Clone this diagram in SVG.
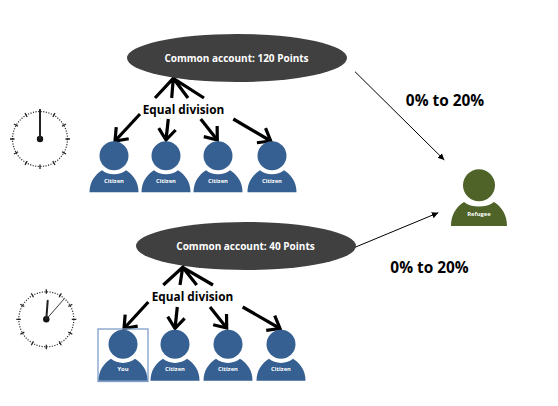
<svg xmlns="http://www.w3.org/2000/svg" width="558" height="406" viewBox="0 0 558 406">
<style>
text{font-family:"Open Sans","Liberation Sans",sans-serif;font-weight:700;text-anchor:middle}
.acc{fill:#404040}
.acct{fill:#fff;font-size:10px}
.div{fill:#000;font-size:11.800px}
.pct{fill:#000;font-size:15.400px}
.p{fill:#376092}
.r{fill:#4f6228}
.lab{fill:#fff;font-size:5.800px}
.fan{stroke:#000;stroke-width:3.200;fill:none}
.arr{stroke:#000;stroke-width:3.200;fill:none;marker-end:url(#open)}
.thin{stroke:#000;stroke-width:1;fill:none;marker-end:url(#tri)}
.face{fill:none;stroke:#333;stroke-width:1.200;stroke-dasharray:1.200 1.400}
.tick{stroke:#222;stroke-width:1.300}
.hand{stroke:#222;stroke-width:2;stroke-linecap:round}
.hand2{stroke:#222;stroke-width:.9}
</style>
<defs>
<marker id="open" markerUnits="userSpaceOnUse" markerWidth="20" markerHeight="22" refX="14" refY="11" orient="auto"><path d="M3 2.500L14 11L3 19.500" fill="none" stroke="#000" stroke-width="3.200"/></marker>
<marker id="tri" markerUnits="userSpaceOnUse" markerWidth="8" markerHeight="8" refX="6.500" refY="4" orient="auto"><path d="M0 .8L6.500 4L0 7.200Z" fill="#000"/></marker>
<g id="person"><circle cx="0" cy="0" r="14.500"/><path d="M-24.500 36.500C-24.500 26-19 19-12 14.500C-6 20 6 20 12 14.500C19 19 24.500 26 24.500 36.500Z"/></g>
<g id="clockface"><circle r="27.500" class="face"/>
<g class="tick"><path d="M0-30V-25.500M0 30V25.500M-30 0H-25.500M30 0H25.500M15-26L12.800-22M-15-26L-12.800-22M15 26L12.800 22M-15 26L-12.800 22M26-15L22-12.800M-26-15L-22-12.800M26 15L22 12.800M-26 15L-22 12.800"/></g>
<circle r="3.200" fill="#111"/></g>
</defs>
<rect width="558" height="406" fill="#fff"/>
<g id="connectors">
<path class="fan" d="M155 98L173.300 78.300L171.700 98M173.300 78.300L188 98M173.300 78.300L204 98"/>
<path class="arr" d="M140 114L115 141"/>
<path class="arr" d="M168.300 119L166 140"/>
<path class="arr" d="M200.700 119L217.300 140"/>
<path class="arr" d="M233.300 119L270.700 141"/>
<path class="fan" d="M163.300 285L182.700 267.300L180 285M182.700 267.300L196.700 285M182.700 267.300L213 285"/>
<path class="arr" d="M148.300 302L124 328.500"/>
<path class="arr" d="M177.300 307L175 328.500"/>
<path class="arr" d="M210 307L226.700 328"/>
<path class="arr" d="M242.700 307L280 328.500"/>
<path class="thin" d="M355 71.700L444.300 160"/>
<path class="thin" d="M355 247.300L438.300 212.700"/>
</g>
<g id="account-top"><ellipse class="acc" cx="237" cy="58" rx="110" ry="24"/><text class="acct" x="236.500" y="62">Common account: 120 Points</text></g>
<g id="account-bottom"><ellipse class="acc" cx="246" cy="246" rx="110" ry="24"/><text class="acct" x="245.500" y="250">Common account: 40 Points</text></g>
<text class="div" x="183.500" y="114">Equal division</text>
<text class="div" x="192.500" y="301">Equal division</text>
<text class="pct" x="445" y="106">0% to 20%</text>
<text class="pct" x="429.500" y="273">0% to 20%</text>
<g id="clock-top" transform="translate(40 139)"><use href="#clockface"/><path class="hand" d="M0 0V-29"/></g>
<g id="clock-bottom" transform="translate(46.300 319.300)"><use href="#clockface"/><path class="hand" d="M0 0L1.400-18.600"/><path class="hand2" d="M0 0L17.700-20.300"/></g>
<g id="citizen-1" class="p"><use href="#person" x="114" y="155.700"/><text class="lab" x="114" y="182.500">Citizen</text></g>
<g id="citizen-2" class="p"><use href="#person" x="166" y="155.700"/><text class="lab" x="166" y="182.500">Citizen</text></g>
<g id="citizen-3" class="p"><use href="#person" x="218" y="155.700"/><text class="lab" x="218" y="182.500">Citizen</text></g>
<g id="citizen-4" class="p"><use href="#person" x="272" y="155.700"/><text class="lab" x="272" y="182.500">Citizen</text></g>
<g id="you" class="p"><rect x="98" y="329" width="50" height="52.500" fill="none" stroke="#7f9fc6" stroke-width="1.300"/><use href="#person" x="123" y="344.300"/><text class="lab" x="123" y="370.500">You</text></g>
<g id="citizen-5" class="p"><use href="#person" x="175" y="344.300"/><text class="lab" x="175" y="371">Citizen</text></g>
<g id="citizen-6" class="p"><use href="#person" x="228" y="344.300"/><text class="lab" x="228" y="371">Citizen</text></g>
<g id="citizen-7" class="p"><use href="#person" x="281" y="344.300"/><text class="lab" x="281" y="371">Citizen</text></g>
<g id="refugee" class="r"><circle cx="479" cy="185.300" r="16"/><path d="M451 226C451 215 456 207 464 202C471 208 487 208 494 202C502 207 507 215 507 226Z"/><text class="lab" x="479" y="216">Refugee</text></g>
</svg>
